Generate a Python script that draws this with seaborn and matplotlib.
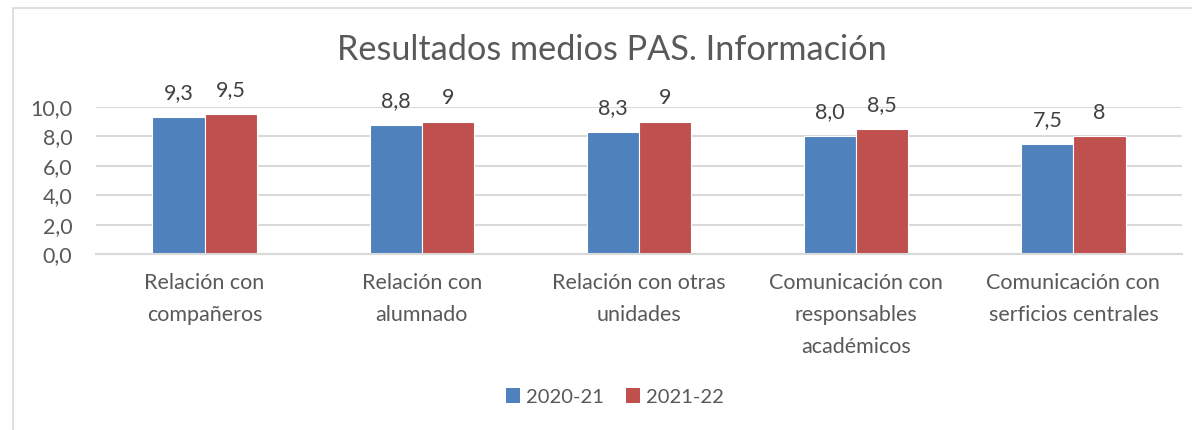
import matplotlib
matplotlib.use("Agg")
import matplotlib.pyplot as plt
import seaborn as sns
import pandas as pd
from matplotlib.patches import Rectangle, Patch

categories = ["Relación con\ncompañeros", "Relación con\nalumnado", "Relación con otras\nunidades",
              "Comunicación con\nresponsables\nacadémicos", "Comunicación con\nserficios centrales"]
series_names = ["2020-21", "2021-22"]
values_2020 = [9.3, 8.8, 8.3, 8.0, 7.5]
values_2021 = [9.5, 9.0, 9.0, 8.5, 8.0]
labels_2020 = ["9,3", "8,8", "8,3", "8,0", "7,5"]
labels_2021 = ["9,5", "9", "9", "8,5", "8"]
yticks = [0, 2, 4, 6, 8, 10]
ytick_labels = ["0,0", "2,0", "4,0", "6,0", "8,0", "10,0"]
colors = ["#4F81BD", "#C0504D"]

sns.set_theme(style="white")
plt.rcParams['font.family'] = ['Lato', 'DejaVu Sans']
text_color = "#595959"
fs = 15.5

df = pd.DataFrame({
    "cat": categories * 2,
    "serie": [series_names[0]] * 5 + [series_names[1]] * 5,
    "val": values_2020 + values_2021,
})

fig = plt.figure(figsize=(11.92, 4.30), dpi=100)
ax = fig.add_axes([96 / 1192, 1 - 254 / 430, (1182 - 96) / 1192, (254 - 107) / 430])
sns.barplot(data=df, x="cat", y="val", hue="serie", palette=colors, width=0.48, saturation=1,
            edgecolor="white", linewidth=0.8, ax=ax, legend=False, errorbar=None)

ax.set_ylim(0, 10)
ax.set_xlim(-0.5, 4.5)
ax.set_yticks(yticks)
ax.set_yticklabels(ytick_labels, fontsize=fs, color=text_color)
ax.tick_params(axis="x", labelsize=fs, colors=text_color, length=0, pad=14)
ax.tick_params(axis="y", length=0, pad=17)
for lbl in ax.get_xticklabels():
    lbl.set_linespacing(1.75)
ax.set_xlabel("")
ax.set_ylabel("")
ax.yaxis.grid(True, color="#D9D9D9", linewidth=1.5)
ax.set_axisbelow(True)
for s in ["left", "right", "top"]:
    ax.spines[s].set_visible(False)
ax.spines["bottom"].set_color("#D9D9D9")
ax.spines["bottom"].set_linewidth(1.5)

for container, labs in zip(ax.containers, [labels_2020, labels_2021]):
    ax.bar_label(container, labels=labs, padding=10, fontsize=fs, color="#404040")

fig.text(0.513, 1 - 50 / 430, "Resultados medios PAS. Información", ha="center", va="center",
         fontsize=24.7, color=text_color)

handles = [Patch(facecolor=c, edgecolor="none") for c in colors]
fig.legend(handles, series_names, loc="center", bbox_to_anchor=(0.516, 1 - 397 / 430), ncol=2,
           frameon=False, fontsize=14.5, handlelength=0.7, handleheight=0.7, handletextpad=0.3,
           columnspacing=1.1, labelcolor=text_color)

fig.patches.append(Rectangle((13 / 1192, -0.1), 1.2, 1 - 8 / 430 + 0.1, transform=fig.transFigure,
                             fill=False, edgecolor="#D9D9D9", linewidth=1.2))

fig.savefig("out.png", dpi=100)
